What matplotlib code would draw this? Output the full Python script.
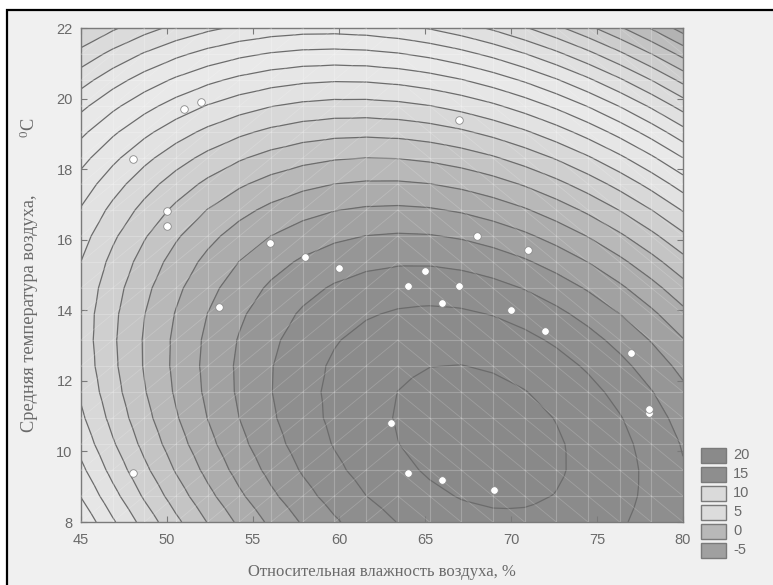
"""Contour map of a fitted response surface over humidity and air temperature."""

import matplotlib

matplotlib.use("Agg")

import matplotlib.pyplot as plt
import matplotlib.tri as mtri
import numpy as np
from matplotlib.patches import Rectangle

# observed points: relative humidity (%) and mean air temperature (deg C)
humidity = [48, 51, 52, 67, 50, 50, 56, 58, 60, 65, 68, 71, 53,
            64, 67, 66, 70, 72, 77, 78, 78, 63, 64, 66, 69, 48]
temperature = [18.3, 19.7, 19.9, 19.4, 16.8, 16.4, 15.9, 15.5, 15.2, 15.1, 16.1, 15.7, 14.1,
               14.7, 14.7, 14.2, 14.0, 13.4, 12.8, 11.1, 11.2, 10.8, 9.4, 9.2, 8.9, 9.4]

# quadratic response surface
surf_x0, surf_y0 = 68.2, 10.4
coef_xx, coef_yy, coef_xy = 0.0185, 0.114, 0.0145
z_peak = 22.2
z_step = 5.0

legend_levels = [20, 15, 10, 5, 0, -5]
legend_colors = ["#8a8a8a", "#8e8e8e", "#dadada", "#dcdcdc", "#b8b8b8", "#a0a0a0"]

x_ticks = [45, 50, 55, 60, 65, 70, 75, 80]
y_ticks = [8, 10, 12, 14, 16, 18, 20, 22]

# grey shade of a band by its distance (in levels) from the peak
shade_steps = [0, 2.3, 4.3, 7.3, 10.0, 12.0, 14.0, 17.0, 22.0, 26.0]
shade_grey = [0x89, 0x90, 0xa5, 0xc9, 0xe3, 0xea, 0xe6, 0xd6, 0xaa, 0xa0]

TEXT = "#6a6a6a"
plt.rcParams["mathtext.fontset"] = "custom"
plt.rcParams["mathtext.rm"] = "Liberation Serif"
plt.rcParams["mathtext.default"] = "rm"

W, H = 773, 585
fig = plt.figure(figsize=(W / 100, H / 100), dpi=100, facecolor="white")
fig.patches.append(Rectangle((7 / W, -0.1), 1.2, 1.1 - 10 / H, transform=fig.transFigure,
                             facecolor="#f0f0f0", edgecolor="black", linewidth=1.6, zorder=-10))
ax = fig.add_axes([81 / W, 1 - 522 / H, 602 / W, 494 / H])

# mesh of 20x20 nodes, split into triangles like the original renderer
n = 20
gx = np.linspace(45, 80, n)
gy = np.linspace(8, 22, n)
mx, my = np.meshgrid(gx, gy)
dx = mx - surf_x0
dy = my - surf_y0
z = z_peak - z_step * (coef_xx * dx ** 2 + 2 * coef_xy * dx * dy + coef_yy * dy ** 2)

tris = []
for j in range(n - 1):
    for i in range(n - 1):
        bl, br, tl, tr = j * n + i, j * n + i + 1, (j + 1) * n + i, (j + 1) * n + i + 1
        if i < 10:
            tris += [(bl, br, tr), (bl, tr, tl)]
        else:
            tris += [(bl, br, tl), (br, tr, tl)]
tri = mtri.Triangulation(mx.ravel(), my.ravel(), tris)

levels = np.arange(-130, 30, 5)
mids = (levels[:-1] + levels[1:]) / 2
greys = np.interp((z_peak - mids) / z_step, shade_steps, shade_grey)
band_colors = ["#%02x%02x%02x" % (int(g), int(g), int(g)) for g in greys]

ax.tricontourf(tri, z.ravel(), levels=levels, colors=band_colors, zorder=1)
ax.tricontour(tri, z.ravel(), levels=levels, colors="#6c6c6c", linewidths=0.9,
              linestyles="solid", zorder=2)

# faint mesh lines
mesh_kw = dict(color="white", alpha=0.22, linewidth=0.8, zorder=3)
for v in gx[1:-1]:
    ax.plot([v, v], [gy[0], gy[-1]], **mesh_kw)
for v in gy[1:-1]:
    ax.plot([gx[0], gx[-1]], [v, v], **mesh_kw)
diag_kw = dict(color="white", alpha=0.18, linewidth=0.6, zorder=3)
for j in range(n - 1):
    for i in range(n - 1):
        if i < 10:
            ax.plot([gx[i], gx[i + 1]], [gy[j], gy[j + 1]], **diag_kw)
        else:
            ax.plot([gx[i], gx[i + 1]], [gy[j + 1], gy[j]], **diag_kw)

ax.scatter(humidity, temperature, s=30, color="white", edgecolors="#8a8a8a",
           linewidths=0.6, zorder=5)

ax.set_xlim(45, 80)
ax.set_ylim(8, 22)
ax.set_xticks(x_ticks)
ax.set_yticks(y_ticks)
ax.tick_params(direction="in", length=4, color="#7a7a7a", labelcolor=TEXT,
               labelsize=10.5, top=True, right=True)
ax.tick_params(axis="x", pad=8)
ax.tick_params(axis="y", pad=6)
for lab in ax.get_xticklabels() + ax.get_yticklabels():
    lab.set_family("Liberation Sans")
for sp in ax.spines.values():
    sp.set_color("#7a7a7a")
    sp.set_linewidth(1.0)

fig.text(382 / W, 1 - 572 / H, "Относительная влажность воздуха, %", family="Liberation Serif",
         fontsize=12, color=TEXT, ha="center", va="center")
fig.text(30 / W, 1 - 313 / H, "Средняя температура воздуха,", family="Liberation Serif",
         fontsize=13.2, color=TEXT, ha="center", va="center", rotation=90)
fig.text(29 / W, 1 - 128 / H, "$^{0}$C", family="Liberation Serif",
         fontsize=13.2, color=TEXT, ha="center", va="center", rotation=90)

# legend boxes
for k, (lev, col) in enumerate(zip(legend_levels, legend_colors)):
    yc = 455 + 19 * k
    fig.patches.append(Rectangle((701 / W, 1 - (yc + 7.5) / H), 25 / W, 15 / H,
                                 transform=fig.transFigure, facecolor=col,
                                 edgecolor="#7a7a7a", linewidth=1.0))
    fig.text(733 / W, 1 - yc / H, str(lev), family="Liberation Sans", fontsize=10.5,
             color=TEXT, ha="left", va="center")

fig.savefig("out.png", dpi=100, facecolor=fig.get_facecolor())
